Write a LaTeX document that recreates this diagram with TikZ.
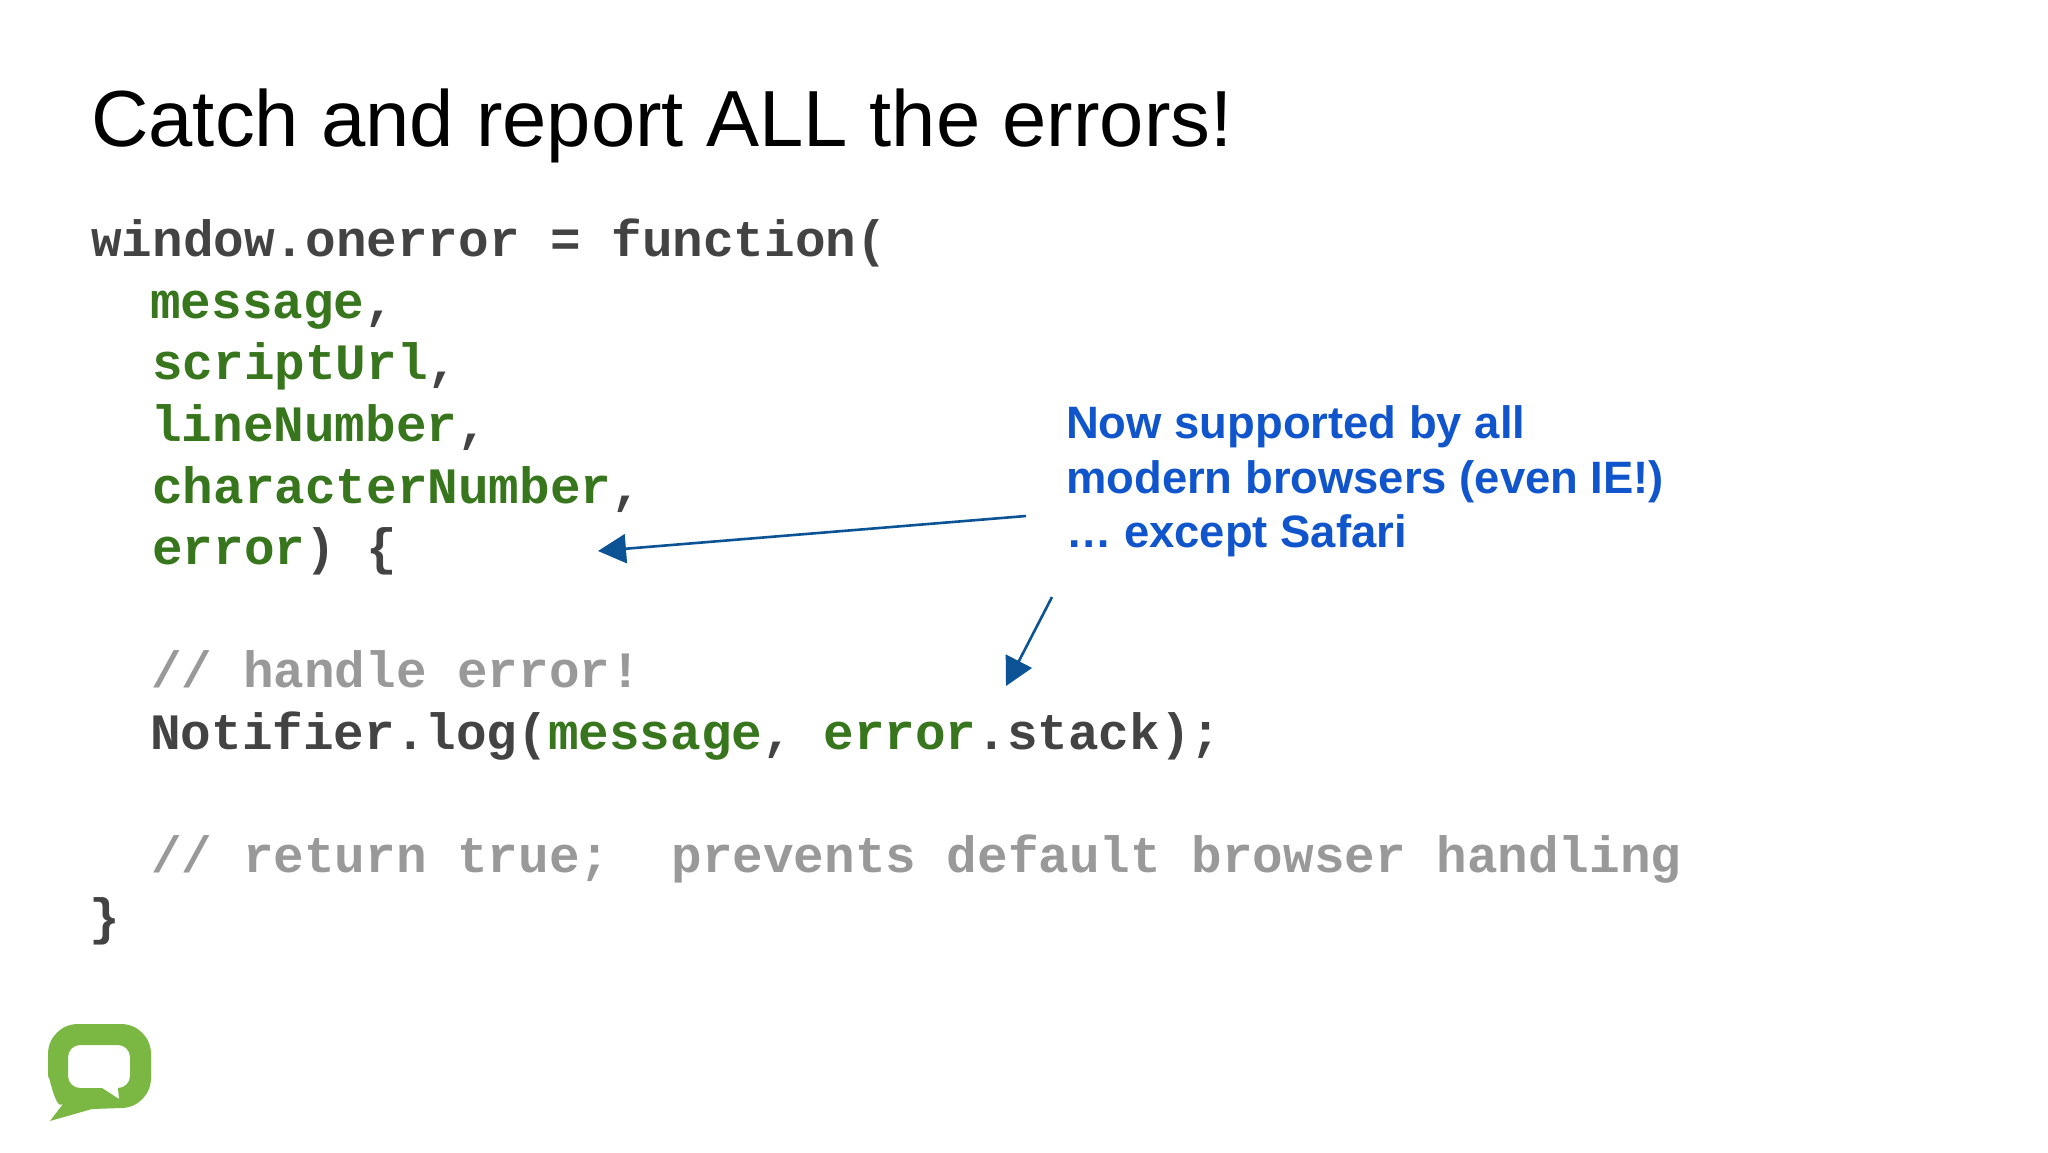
\documentclass[tikz,border=0pt]{standalone}
\usepackage{fontspec}
\setmainfont{Liberation Sans}
\setmonofont{Liberation Mono}
\usetikzlibrary{arrows.meta}
\definecolor{gray800}{HTML}{434343}
\definecolor{gray400}{HTML}{999999}
\definecolor{green800}{HTML}{38761D}
\definecolor{blue700}{HTML}{1155CC}
\definecolor{blue900}{HTML}{0B5394}
\definecolor{green500}{HTML}{7AB843}
\tikzstyle{titel}=[anchor=base west, inner sep=0, font=\fontsize{79.6}{80}\selectfont]
\tikzstyle{codeline}=[anchor=base west, inner sep=0, text=gray800, font=\fontsize{51}{51}\selectfont\ttfamily\bfseries]
\tikzstyle{noteline}=[anchor=base west, inner sep=0, text=blue700, font=\fontsize{45.4}{46}\selectfont\bfseries]
\tikzstyle{pointer}=[draw=blue900, line width=2.6pt, -{Triangle[length=28pt, width=29pt]}]
\newcommand{\param}[1]{\textcolor{green800}{#1}}

\begin{document}
\begin{tikzpicture}[x=1pt, y=-1pt]
		\useasboundingbox[fill=white] (0,0) rectangle (2048,1152);
		\node[titel](title) at (91,146) {Catch and report ALL the errors!};
		\node[codeline](c1) at (91,256) {window.onerror = function(};
		\node[codeline](c2) at (150,318) {\param{message},};
		\node[codeline](c3) at (152,379) {\param{scriptUrl},};
		\node[codeline](c4) at (151,441) {\param{lineNumber},};
		\node[codeline](c5) at (152,503) {\param{characterNumber},};
		\node[codeline](c6) at (152,564) {\param{error}) \{};
		\node[codeline, text=gray400](c7) at (151,687) {// handle error!};
		\node[codeline](c8) at (150,749) {Notifier.log(\param{message}, \param{error}.stack);};
		\node[codeline, text=gray400](c9) at (151,872) {// return true;\ \ prevents default browser handling};
		\node[codeline](c10) at (89,934) {\}};
		\node[noteline](n1) at (1066,438) {Now supported by all};
		\node[noteline](n2) at (1066,493) {modern browsers (even IE!)};
		\node[noteline](n3) at (1066,547) {… except Safari};
		\coordinate (p1) at (1026,516);
		\coordinate (t1) at (598,551);
		\coordinate (p2) at (1052,597);
		\coordinate (t2) at (1006,686);
		\path[pointer] (p1) -- (t1);
		\path[pointer] (p2) -- (t2);
		% logo
		\path[fill=green500, even odd rule]
			(78,1024) -- (121,1024) to[out=0, in=90] (151,1054) -- (151,1078) to[out=-90, in=0] (121,1108)
			-- (92,1109) -- (50,1121) -- (63,1104) to[out=-135, in=90] (48,1078) -- (48,1054) to[out=90, in=180] (78,1024) -- cycle
			(80,1045) -- (118,1045) to[out=0, in=90] (130,1057) -- (130,1076) to[out=-90, in=0] (118,1088)
			-- (119,1099) -- (102,1088) -- (80,1088) to[out=180, in=-90] (68,1076) -- (68,1057) to[out=90, in=180] (80,1045) -- cycle;
	\end{tikzpicture}
\end{document}
